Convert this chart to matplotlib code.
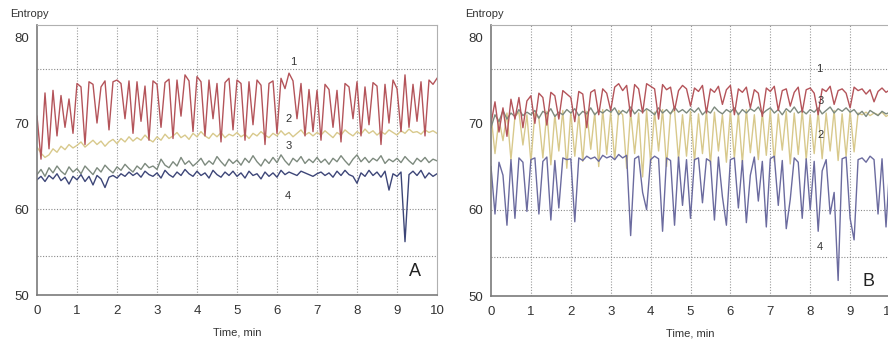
import numpy as np
import matplotlib
matplotlib.use("Agg")
import matplotlib.pyplot as plt

plt.rcParams['font.family'] = ['Liberation Sans', 'DejaVu Sans']

# time axis: one reading every 0.1 min over 10 min
minutes = np.arange(101) / 10

# ---- record A ----
a_curve1 = [70.8, 65.8, 73.5, 67.0, 73.8, 68.5, 73.2, 69.5, 72.8, 68.8,
            74.6, 74.2, 67.5, 74.8, 74.5, 70.0, 74.2, 74.9, 69.2, 74.8,
            75.0, 74.6, 70.5, 74.9, 68.8, 74.8, 70.2, 74.3, 68.0, 74.9,
            74.5, 69.5, 74.7, 75.1, 68.2, 75.0, 70.8, 75.6, 74.9, 69.0,
            75.4, 74.8, 68.5, 75.0, 70.5, 74.6, 67.8, 74.7, 75.2, 69.2,
            75.0, 74.6, 68.0, 74.8, 69.8, 75.0, 74.4, 67.5, 74.6, 74.9,
            68.8, 75.2, 74.0, 75.8, 74.9, 70.5, 74.6, 68.5, 73.9, 69.0,
            73.8, 68.0, 74.5, 73.9, 69.5, 73.8, 67.8, 74.6, 74.2, 70.5,
            74.8, 68.5, 74.2, 69.8, 74.7, 74.3, 67.5, 74.5, 70.0, 75.0,
            74.0, 69.0, 75.6, 69.5, 74.5, 70.2, 74.8, 68.5, 75.0, 74.5, 75.2]
a_curve2 = [67.2, 66.5, 66.0, 66.3, 67.0, 66.6, 67.3, 66.9, 67.5, 67.1,
            67.4, 67.8, 67.2, 67.6, 68.0, 67.5, 67.9, 67.3, 67.8, 68.1,
            67.6, 68.2, 67.8, 68.4, 67.9, 68.3, 68.0, 68.6, 68.1, 67.8,
            68.4, 68.0, 68.7, 68.2, 68.5, 68.9, 68.3, 68.6, 68.1, 68.8,
            68.4, 69.0, 68.5, 68.2, 68.8, 68.4, 68.9, 68.3, 68.7, 68.5,
            68.9, 68.4, 68.7, 68.2, 68.8, 68.5, 69.0, 68.6, 68.3, 68.8,
            68.5, 69.1, 68.6, 68.9, 68.4, 68.8, 69.2, 68.6, 68.9, 68.5,
            68.9, 68.6, 69.1, 68.7, 68.3, 68.9, 68.6, 69.2, 68.8, 68.5,
            69.0, 68.7, 69.3, 68.8, 69.1, 68.6, 69.0, 68.7, 69.2, 68.9,
            68.6, 69.1, 68.8, 69.3, 68.9, 69.0, 68.7, 69.2, 68.9, 69.1, 68.8]
a_curve3 = [64.0, 64.6, 63.8, 64.8, 64.2, 65.0, 64.4, 64.0, 64.9, 64.3,
            64.7, 64.1, 65.0, 64.5, 64.0, 64.8, 64.3, 65.1, 64.6, 64.2,
            64.9, 64.5, 65.2, 64.7, 64.3, 65.0, 64.6, 65.3, 64.8, 65.0,
            64.6, 65.8, 65.1, 64.8, 65.5, 65.0, 66.0, 65.2, 65.6, 65.0,
            65.4, 65.9, 65.1, 65.6, 65.2, 66.1, 65.5, 65.0, 65.8, 65.3,
            65.7, 65.1, 65.9, 65.4, 66.2, 65.5, 65.0, 65.8, 65.3, 66.0,
            65.4, 66.3, 65.6, 65.1, 65.9, 65.5, 66.1, 65.3, 65.8, 65.4,
            66.0, 65.4, 65.8, 65.2, 65.9, 65.5, 66.2, 65.6, 65.1, 65.8,
            66.3, 65.5, 66.0, 65.4, 65.9, 65.6, 66.2, 65.3, 65.8, 65.5,
            65.9, 65.4, 66.1, 65.6, 65.2, 65.9, 65.5, 66.0, 65.4, 65.8, 65.6]
a_curve4 = [63.4, 63.8, 63.2, 63.9, 63.5, 64.1, 63.3, 63.7, 62.9, 63.8,
            63.4, 64.0, 63.2, 63.8, 62.8, 63.9, 63.5, 62.5, 63.7, 63.9,
            63.6, 64.1, 63.8, 64.3, 63.9, 64.2, 63.7, 64.4, 64.0, 63.8,
            64.2, 63.6, 64.5, 64.0, 63.7, 64.3, 63.9, 64.6, 64.1, 63.8,
            64.4, 63.9, 64.2, 63.6, 64.5, 64.0, 63.7, 64.3, 63.9, 64.4,
            63.8, 64.2, 63.6, 64.4, 63.9, 64.1, 63.5, 64.3, 63.8, 64.2,
            63.7, 64.5, 64.0, 64.3, 64.1, 63.9, 64.4, 64.2, 64.0, 63.8,
            64.1, 64.3, 63.9, 64.2, 63.7, 64.4, 63.9, 64.5, 64.0, 63.8,
            63.0, 64.2, 63.8, 64.5, 63.9, 64.3, 63.7, 64.4, 62.2, 64.1,
            63.8, 64.3, 56.2, 64.0, 64.4, 63.9, 64.5, 63.6, 64.2, 63.8, 64.1]

# ---- record B ----
b_curve1 = [70.0, 72.5, 69.0, 71.8, 68.5, 72.8, 70.5, 73.0, 69.5, 72.6,
            73.2, 70.0, 73.5, 73.0, 69.8, 73.6, 73.2, 70.5, 73.8, 73.4,
            73.0, 70.2, 73.7, 73.4, 69.5, 73.6, 73.9, 71.0, 74.0, 73.5,
            71.5, 74.2, 74.6, 73.8, 74.4, 70.8, 74.5, 74.0, 71.2, 74.6,
            74.3, 74.0, 70.5, 74.5, 73.9, 74.2, 71.5, 73.8, 74.4, 74.0,
            72.0, 74.1, 73.7, 74.4, 71.2, 74.0, 73.6, 74.3, 72.2, 73.9,
            74.4, 71.0, 74.0, 73.6, 74.2, 71.8, 73.9, 73.5, 70.8, 74.1,
            73.7, 74.3, 71.5, 73.8, 74.0, 72.0, 73.6, 74.2, 71.3, 73.9,
            74.1, 73.5, 71.0, 74.0, 73.7, 74.3, 72.2, 73.8, 74.0, 73.5,
            71.8, 74.2, 73.8, 74.0, 73.4, 73.9, 72.5, 73.7, 74.1, 73.6, 73.9]
b_curve2 = [71.0, 66.5, 70.5, 68.0, 71.2, 65.8, 70.8, 71.3, 67.5, 71.0,
            65.5, 71.2, 70.6, 66.0, 71.4, 65.2, 71.0, 66.8, 71.5, 64.8,
            71.3, 66.2, 71.0, 65.6, 71.4, 67.0, 71.2, 65.0, 71.6, 66.4,
            71.3, 65.8, 71.5, 71.0, 64.8, 71.4, 66.5, 71.2, 63.8, 71.5,
            65.5, 71.3, 66.8, 71.6, 65.0, 71.2, 71.5, 65.8, 71.0, 66.2,
            71.4, 65.6, 71.1, 66.5, 71.5, 65.2, 71.3, 66.8, 71.0, 65.5,
            71.4, 66.0, 71.2, 65.4, 71.6, 66.6, 71.0, 65.8, 71.3, 66.3,
            71.5, 65.6, 71.1, 66.9, 71.4, 65.3, 71.2, 66.4, 71.5, 65.8,
            71.0, 66.5, 71.4, 65.9, 71.2, 66.8, 71.5, 65.7, 71.1, 66.2,
            71.4, 66.7, 71.2, 71.0, 71.3, 70.9, 71.2, 71.0, 71.3, 70.8, 71.1]
b_curve3 = [69.5, 71.0, 70.2, 71.5, 70.5, 71.2, 70.8, 71.6, 70.9, 71.3,
            71.0, 71.5, 70.6, 71.4, 71.1, 71.7, 70.8, 71.3, 71.0, 71.6,
            71.2, 71.7, 70.9, 71.4, 71.1, 71.8, 71.0, 71.5, 71.2, 71.6,
            71.3, 71.8, 71.0, 71.5, 71.2, 71.9, 71.1, 71.6, 71.3, 71.7,
            71.4, 71.0, 71.8, 71.2, 71.6, 71.1, 71.9, 71.3, 71.6, 71.2,
            71.7, 71.3, 71.8, 71.0, 71.5, 71.2, 71.9, 71.4, 71.1, 71.6,
            71.3, 71.8, 71.0, 71.6, 71.2, 71.7, 71.4, 71.9, 71.1, 71.5,
            71.8, 71.2, 71.6, 71.0, 71.7, 71.3, 71.9, 71.2, 71.5, 71.1,
            71.6, 71.3, 71.8, 71.1, 71.5, 71.9, 71.2, 71.7, 71.4, 71.8,
            71.3, 71.6, 71.0, 71.4, 70.8, 71.5, 71.2, 70.9, 71.4, 71.1, 71.3]
b_curve4 = [65.0, 59.5, 65.5, 64.0, 58.2, 65.8, 59.0, 66.0, 65.5, 59.8,
            65.8, 66.0, 59.5, 65.6, 66.1, 58.8, 65.7, 60.2, 66.0, 65.8,
            65.9, 58.6, 66.0, 65.7, 66.2, 65.9, 66.1, 65.6, 66.3, 66.0,
            66.2, 65.8, 66.4, 66.0, 66.3, 57.0, 65.9, 66.2, 62.0, 60.0,
            65.8, 66.2, 65.9, 57.5, 66.0, 65.7, 58.2, 66.1, 60.5, 65.8,
            59.0, 65.8, 66.0, 60.8, 65.9, 65.6, 58.8, 66.1, 61.5, 58.2,
            65.8, 66.0, 60.2, 65.7, 58.5, 64.0, 66.1, 61.0, 65.6, 58.0,
            65.9, 66.2, 60.5, 65.7, 57.8, 61.2, 66.0, 65.5, 59.0, 65.9,
            60.0, 65.6, 57.5, 64.5, 65.8, 59.5, 62.0, 51.8, 65.9, 66.1,
            59.0, 56.5, 65.8, 66.0, 65.5, 66.2, 65.8, 59.5, 65.9, 58.0, 65.6]

y_ticks = [50, 60, 70, 80]
x_ticks = list(range(11))
grid_levels = [54.5, 60, 76.3]

c_red = '#b4545a'
c_yellow = '#d8c98c'
c_green = '#7d8a7e'
c_navy = '#3d4678'
c_violet = '#6b6b9f'

fig = plt.figure(figsize=(8.88, 3.41), dpi=100)
ax_a = fig.add_axes([37 / 888, 46 / 341, 400 / 888, 270 / 341])
ax_b = fig.add_axes([491 / 888, 45 / 341, 399 / 888, 271 / 341])


def style_axes(ax):
    ax.set_xlim(0, 10)
    ax.set_ylim(50, 81.4)
    ax.set_xticks(x_ticks)
    ax.set_yticks(y_ticks)
    ax.tick_params(length=0, labelsize=9.5, colors='#333333', pad=7)
    ax.tick_params(axis='y', pad=6)
    for x in x_ticks[1:-1]:
        ax.axvline(x, color='#9a9a9a', lw=0.8, ls=(0, (1, 1.5)), zorder=0)
    for y in grid_levels:
        ax.axhline(y, color='#8a8a8a', lw=0.8, ls=(0, (1, 1.5)), zorder=0)
    for side in ['top', 'right']:
        ax.spines[side].set_color('#b0b0b0')
    for side in ['left', 'bottom']:
        ax.spines[side].set_color('#7a7a7a')
        ax.spines[side].set_linewidth(1.2)
    ax.set_xlabel('Time, min', fontsize=8, color='#333333', labelpad=8)


style_axes(ax_a)
ax_a.plot(minutes, a_curve2, color=c_yellow, lw=1.0)
ax_a.plot(minutes, a_curve3, color=c_green, lw=1.0)
ax_a.plot(minutes, a_curve4, color=c_navy, lw=1.0)
ax_a.plot(minutes, a_curve1, color=c_red, lw=1.0)
for label, (tx, ty) in zip(['1', '2', '3', '4'],
                           [(6.4, 77.1), (6.3, 70.5), (6.28, 67.3), (6.28, 61.5)]):
    ax_a.text(tx, ty, label, fontsize=8, ha='center', va='center', color='#333333')
ax_a.text(9.45, 52.7, 'A', fontsize=13, ha='center', va='center', color='#222222')

style_axes(ax_b)
ax_b.plot(minutes, b_curve2, color=c_yellow, lw=1.0)
ax_b.plot(minutes, b_curve3, color=c_green, lw=1.0)
ax_b.plot(minutes, b_curve1, color=c_red, lw=1.0)
ax_b.plot(minutes, b_curve4, color=c_violet, lw=1.0)
for label, (tx, ty) in zip(['1', '3', '2', '4'],
                           [(8.22, 76.3), (8.27, 72.6), (8.25, 68.7), (8.25, 55.7)]):
    ax_b.text(tx, ty, label, fontsize=8, ha='center', va='center', color='#333333')
ax_b.text(9.45, 51.7, 'B', fontsize=13, ha='center', va='center', color='#222222')

fig.text(10 / 888, 1 - 14 / 341, 'Entropy', fontsize=8, va='center', color='#333333')
fig.text(465 / 888, 1 - 14 / 341, 'Entropy', fontsize=8, va='center', color='#333333')

fig.savefig('out.png', dpi=100)
